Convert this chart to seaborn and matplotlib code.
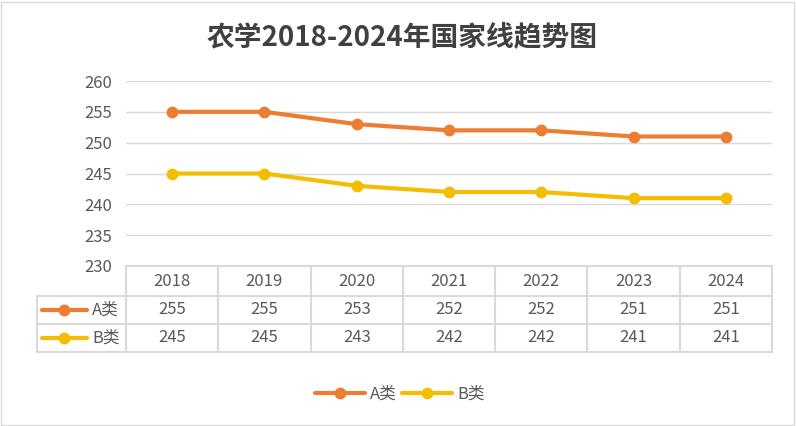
import matplotlib
matplotlib.use("Agg")
import matplotlib.pyplot as plt
from matplotlib.lines import Line2D
from matplotlib.patches import Rectangle
import seaborn as sns
import pandas as pd

# data
years = ["2018", "2019", "2020", "2021", "2022", "2023", "2024"]
a_scores = [255, 255, 253, 252, 252, 251, 251]
b_scores = [245, 245, 243, 242, 242, 241, 241]
series_names = ["A类", "B类"]
title = "农学2018-2024年国家线趋势图"

colors = ["#ED7D31", "#F5BD00"]
grid_c = "#D9D9D9"
text_c = "#595959"

sns.set_theme(style="white")
plt.rcParams['font.family'] = ['Noto Sans CJK SC', 'DejaVu Sans']

W, H = 796, 426
fig = plt.figure(figsize=(W / 100, H / 100), dpi=100)

# chart outer border
fig.add_artist(Rectangle((1 / W, 1 / H), 793 / W, 423 / H, transform=fig.transFigure,
                         fill=False, edgecolor="#D9D9D9", linewidth=1))

x0, x1, ytop, ybot = 126, 772, 81, 266
ax = fig.add_axes([x0 / W, 1 - ybot / H, (x1 - x0) / W, (ybot - ytop) / H])

df = pd.DataFrame({
    "pos": list(range(len(years))) * 2,
    "score": a_scores + b_scores,
    "type": [series_names[0]] * len(years) + [series_names[1]] * len(years),
})
sns.lineplot(data=df, x="pos", y="score", hue="type", palette=colors, marker="o",
             markersize=8.5, markeredgewidth=0, linewidth=3, legend=False, ax=ax)

ax.set_xlim(-0.5, len(years) - 0.5)
ax.set_ylim(230, 260)
ax.set_yticks(range(230, 261, 5))
ax.grid(axis="y", color=grid_c, linewidth=1)
ax.set_axisbelow(True)
ax.set_xticks([])
ax.set_xlabel("")
ax.set_ylabel("")
for s in ax.spines.values():
    s.set_visible(False)
fs = 12
ax.tick_params(axis="y", length=0, pad=10, labelsize=fs, labelcolor=text_c)

# data table under the plot
tl = 37
unit = (x1 - x0) / len(years)
left_x = -0.5 - (x0 - tl) / unit
row_h = [266, 296, 324, 352]
axt = fig.add_axes([tl / W, 1 - row_h[-1] / H, (x1 - tl) / W, (row_h[-1] - row_h[0]) / H])
axt.set_xlim(left_x, len(years) - 0.5)
axt.set_ylim(row_h[-1], row_h[0])
axt.axis("off")
lw = 1.5
axt.plot([-0.5, len(years) - 0.5], [row_h[0], row_h[0]], color=grid_c, lw=lw, clip_on=False)
for y in row_h[1:]:
    axt.plot([left_x, len(years) - 0.5], [y, y], color=grid_c, lw=lw, clip_on=False)
for i in range(len(years) + 1):
    axt.plot([i - 0.5, i - 0.5], [row_h[0], row_h[-1]], color=grid_c, lw=lw, clip_on=False)
axt.plot([left_x, left_x], [row_h[1], row_h[-1]], color=grid_c, lw=lw, clip_on=False)

for i, yr in enumerate(years):
    axt.text(i, (row_h[0] + row_h[1]) / 2, yr, ha="center", va="center", fontsize=fs, color=text_c)
for r, (vals, name, c) in enumerate(zip([a_scores, b_scores], series_names, colors)):
    yc = (row_h[r + 1] + row_h[r + 2]) / 2
    for i, v in enumerate(vals):
        axt.text(i, yc, str(v), ha="center", va="center", fontsize=fs, color=text_c)
    lx0 = left_x + 5 / unit
    lx1 = left_x + 50 / unit
    axt.plot([lx0, lx1], [yc, yc], color=c, lw=3, solid_capstyle="round", clip_on=False)
    axt.plot([(lx0 + lx1) / 2], [yc], "o", color=c, markersize=8.5, mec="none", clip_on=False)
    axt.text(left_x + 55 / unit, yc, name, ha="left", va="center", fontsize=fs, color=text_c)

# legend
handles = [Line2D([0], [0], color=c, lw=3, marker="o", markersize=8.5, mec="none")
           for c in colors]
fig.legend(handles, series_names, loc="center", bbox_to_anchor=(400 / W, 1 - 394 / H),
           ncol=2, frameon=False, fontsize=fs, labelcolor=text_c, handlelength=3.0,
           handletextpad=0.3, columnspacing=0.3)

fig.text(402 / W, 1 - 38 / H, title, ha="center", va="center", fontsize=20,
         color="#404040", fontweight="bold")

fig.savefig("out.png", dpi=100)
